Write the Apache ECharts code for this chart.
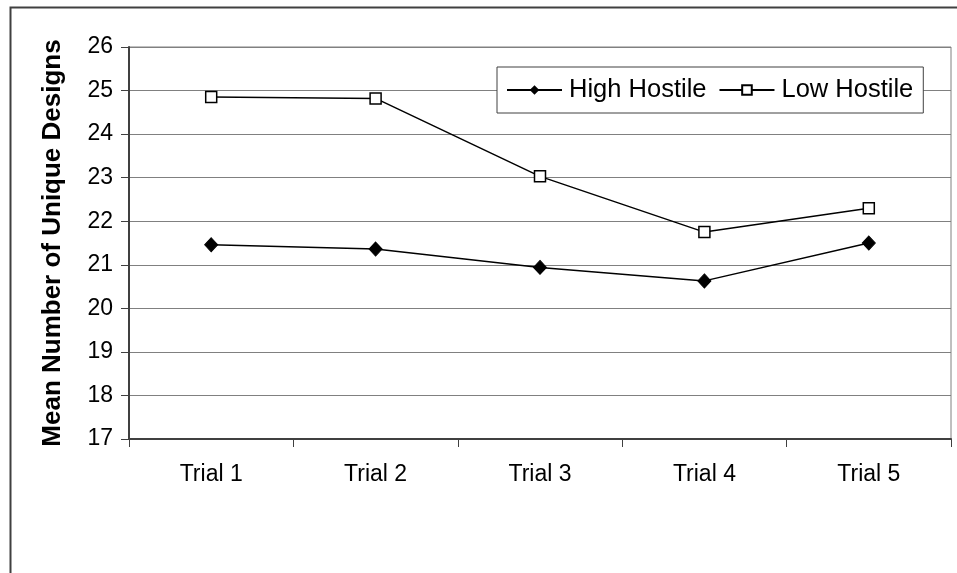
<!DOCTYPE html>
<html>
<head>
<meta charset="utf-8">
<script src="https://cdn.jsdelivr.net/npm/echarts@6/dist/echarts.min.js"></script>
<style>
  html, body { margin: 0; padding: 0; background: #fff; }
  #chart { width: 957px; height: 573px; }
</style>
</head>
<body>
<div id="chart"></div>
<script>
// Mean number of unique designs per trial, by hostility condition
const trials = ['Trial 1', 'Trial 2', 'Trial 3', 'Trial 4', 'Trial 5'];
const highHostile = [21.46, 21.36, 20.94, 20.63, 21.50];
const lowHostile = [24.85, 24.82, 23.03, 21.75, 22.30];
const yTicks = { min: 17, max: 26, step: 1 };
const yTitle = 'Mean Number of Unique Designs';

const FONT = '"Liberation Sans", Arial, sans-serif';

const chart = echarts.init(document.getElementById('chart'), null, { renderer: 'canvas' });

chart.setOption({
  animation: false,
  backgroundColor: '#ffffff',
  textStyle: { fontFamily: FONT, color: '#000' },
  graphic: [{
    type: 'rect',
    left: 8, top: 5,
    shape: { width: 1200, height: 1000 },
    style: { fill: 'none', stroke: '#404040', lineWidth: 2 },
    silent: true,
    z: -10
  }],
  grid: {
    left: 129, right: 6, top: 47, bottom: 134,
    show: true,
    borderColor: '#808080',
    borderWidth: 1,
    backgroundColor: 'transparent'
  },
  legend: {
    left: 497, top: 67,
    orient: 'horizontal',
    padding: [10, 10, 10, 9],
    itemGap: 12,
    itemWidth: 55,
    itemHeight: 12,
    borderColor: '#404040',
    borderWidth: 1,
    backgroundColor: '#fff',
    textStyle: { fontFamily: FONT, fontSize: 25.5, color: '#000', padding: [0, 0, 0, 2] },
    data: ['High Hostile', 'Low Hostile']
  },
  xAxis: {
    type: 'category',
    data: trials,
    boundaryGap: true,
    axisLine: { show: true, lineStyle: { color: '#404040', width: 2 } },
    axisTick: { show: true, length: 8, inside: false, lineStyle: { color: '#404040', width: 1 } },
    axisLabel: { fontFamily: FONT, fontSize: 23, color: '#000', margin: 24 },
    splitLine: { show: false }
  },
  yAxis: {
    type: 'value',
    min: yTicks.min, max: yTicks.max, interval: yTicks.step,
    name: yTitle,
    nameLocation: 'middle',
    nameGap: 63,
    nameTextStyle: { fontFamily: FONT, fontSize: 26, fontWeight: 'bold', color: '#000' },
    axisLine: { show: true, lineStyle: { color: '#404040', width: 2 } },
    axisTick: { show: true, length: 8, lineStyle: { color: '#404040', width: 1 } },
    axisLabel: { fontFamily: FONT, fontSize: 23, color: '#000', margin: 16 },
    splitLine: { show: true, lineStyle: { color: '#808080', width: 1 } }
  },
  series: [
    {
      name: 'High Hostile',
      type: 'line',
      data: highHostile,
      symbol: 'diamond',
      symbolSize: [13, 14],
      lineStyle: { color: '#000', width: 1.5 },
      itemStyle: { color: '#000', borderColor: '#000' },
      z: 3
    },
    {
      name: 'Low Hostile',
      type: 'line',
      data: lowHostile,
      symbol: 'rect',
      symbolSize: 11,
      lineStyle: { color: '#000', width: 1.5 },
      itemStyle: { color: '#fff', borderColor: '#000', borderWidth: 1.5 },
      z: 3
    }
  ]
});
</script>
</body>
</html>
